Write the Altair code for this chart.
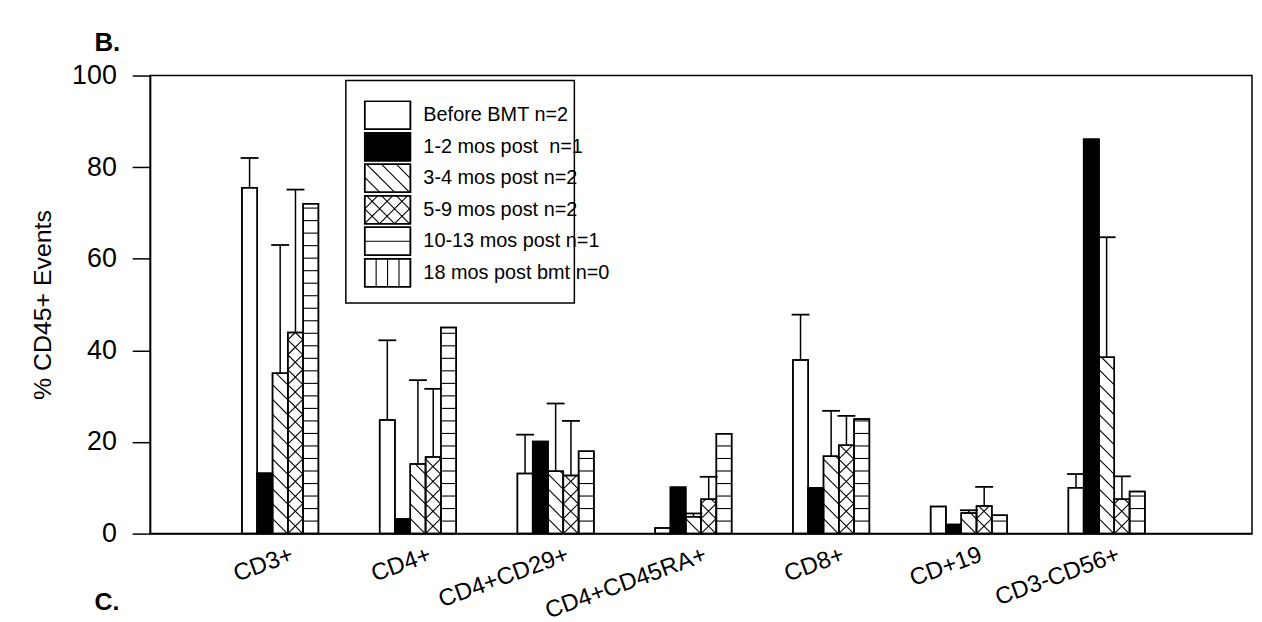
import json
import altair as alt
import pandas as pd

# ---------------- data ----------------
categories = ["CD3+", "CD4+", "CD4+CD29+", "CD4+CD45RA+", "CD8+", "CD+19", "CD3-CD56+"]
series_names = ["Before BMT n=2", "1-2 mos post  n=1", "3-4 mos post n=2",
                "5-9 mos post n=2", "10-13 mos post n=1", "18 mos post bmt n=0"]

before_bmt     = [75.5, 24.8, 13.1, 1.2, 37.9, 5.9, 10.0]
before_bmt_err = [82.0, 42.2, 21.6, None, 47.8, None, 13.0]
post_1_2       = [13.2, 3.2, 20.1, 10.1, 10.0, 2.0, 86.1]
post_1_2_err   = [None, None, None, None, None, None, None]
post_3_4       = [35.0, 15.2, 13.6, 3.7, 16.9, 4.5, 38.5]
post_3_4_err   = [63.0, 33.5, 28.4, 4.4, 26.8, 5.1, 64.7]
post_5_9       = [43.9, 16.7, 12.7, 7.5, 19.3, 6.0, 7.5]
post_5_9_err   = [75.1, 31.6, 24.6, 12.4, 25.7, 10.2, 12.5]
post_10_13     = [72.0, 45.0, 18.0, 21.8, 25.0, 4.0, 9.2]
post_10_13_err = [None, None, None, None, None, None, None]
post_18        = [None, None, None, None, None, None, None]   # n=0
post_18_err    = [None, None, None, None, None, None, None]

y_ticks = [0, 20, 40, 60, 80, 100]

series_values = [before_bmt, post_1_2, post_3_4, post_5_9, post_10_13, post_18]
series_errors = [before_bmt_err, post_1_2_err, post_3_4_err, post_5_9_err, post_10_13_err, post_18_err]

# ---------------- styles / layout ----------------
series_fill = ["white", "black", "white", "white", "white", "white"]
series_hatch = [None, None, "back", "cross", "horiz", "vert"]

W, H = 1109, 461
XMAX, YMAX = 8, 100
kx = W / XMAX
ky = H / YMAX
BAR_PX = 15.4
CAP_HALF_PX = 9
bw = BAR_PX / kx
FONT = "Liberation Sans"


def hatch(x0, x1, y0, y1, kind, s):
    segs = []
    if kind == "horiz":
        k = 1
        while y0 + k * s < y1 - 1:
            segs.append((x0, y0 + k * s, x1, y0 + k * s)); k += 1
    if kind == "vert":
        k = 1
        while x0 + k * s < x1 - 1:
            segs.append((x0 + k * s, y0, x0 + k * s, y1)); k += 1
    if kind in ("back", "cross"):
        k = 1
        while x0 + y0 + k * s < x1 + y1:
            c = x0 + y0 + k * s
            a, b = max(x0, c - y1), min(x1, c - y0)
            if b - a > 0.5:
                segs.append((a, c - a, b, c - b))
            k += 1
    if kind == "cross":
        k = -int((x1 - x0) / s) - 1
        while y0 - x0 + k * s < y1 - x0:
            c = y0 - x0 + k * s
            a, b = max(x0, y0 - c), min(x1, y1 - c)
            if b - a > 0.5:
                segs.append((a, a + c, b, b + c))
            k += 1
    return [dict(x=p / kx, y=q / ky, x2=r / kx, y2=t / ky) for p, q, r, t in segs]


bar_rows, hatch_rows, err_rows, cap_rows = [], [], [], []
for j, (vals, errs) in enumerate(zip(series_values, series_errors)):
    for i, v in enumerate(vals):
        if v is None:
            continue
        left = (i + 1) + (j - 3) * bw
        right = left + bw
        bar_rows.append(dict(x=left, x2=right, y=0, y2=v, fill=series_fill[j]))
        if series_hatch[j]:
            hatch_rows += hatch(left * kx, right * kx, 0, v * ky, series_hatch[j],
                                12.6 if series_hatch[j] == "horiz" else 15)
        e = errs[i]
        if e is not None:
            cx = (left + right) / 2
            err_rows.append(dict(x=cx, y=v, y2=e))
            cap_rows.append(dict(x=cx - CAP_HALF_PX / kx, x2=cx + CAP_HALF_PX / kx, y=e))

# legend layout in plot pixels (from top-left of plot area)
LB = dict(l=197, r=427, t=5, b=229)
SW_L, SW_R, ROW0, ROW_H, SW_H, TXT_X = 216, 262, 26, 31.7, 28, 275


def px2x(p):
    return p / kx


def py2y(p):
    return (H - p) / ky


legend_box = pd.DataFrame([dict(x=px2x(LB["l"]), x2=px2x(LB["r"]), y=py2y(LB["b"]), y2=py2y(LB["t"]))])
sw_rows, sw_hatch, txt_rows = [], [], []
for j, name in enumerate(series_names):
    top = ROW0 + j * ROW_H
    bot = top + SW_H
    sw_rows.append(dict(x=px2x(SW_L), x2=px2x(SW_R), y=py2y(bot), y2=py2y(top), fill=series_fill[j]))
    if series_hatch[j]:
        sp = {"back": 15, "cross": 15, "horiz": 14, "vert": 11.5}[series_hatch[j]]
        sw_hatch += hatch(SW_L, SW_R, H - bot, H - top, series_hatch[j], sp)
    # keep the double space visible in SVG text
    txt_rows.append(dict(x=px2x(TXT_X), y=py2y((top + bot) / 2), label=name.replace("  ", " \u00a0")))

bars_df = pd.DataFrame(bar_rows)
hatch_df = pd.DataFrame(hatch_rows)
err_df = pd.DataFrame(err_rows)
cap_df = pd.DataFrame(cap_rows)
sw_df = pd.DataFrame(sw_rows)
sw_hatch_df = pd.DataFrame(sw_hatch)
txt_df = pd.DataFrame(txt_rows)

xscale = alt.Scale(domain=[0, XMAX], nice=False, zero=False)
yscale = alt.Scale(domain=[0, YMAX], nice=False)
label_expr = json.dumps(categories) + "[datum.value - 1]"
xaxis = alt.Axis(values=list(range(1, len(categories) + 1)), labelExpr=label_expr, ticks=False,
                 grid=False, labelAngle=-20, labelAlign="right", labelBaseline="top",
                 labelFontSize=24, labelPadding=9, labelOverlap=False,
                 labelBound=False, labelFlush=False, title=None)
yaxis = alt.Axis(values=y_ticks, grid=False, tickSize=18, labelFontSize=27, labelPadding=16,
                 title="% CD45+ Events", titleFontSize=25, titlePadding=16)


def X(f):
    return alt.X(f, type="quantitative", scale=xscale, axis=xaxis)


def Y(f):
    return alt.Y(f, type="quantitative", scale=yscale, axis=yaxis)


bars = alt.Chart(bars_df).mark_rect(stroke="black", strokeWidth=1.5).encode(
    x=X("x"), x2="x2", y=Y("y"), y2="y2", fill=alt.Fill("fill:N", scale=None))
hatch_l = alt.Chart(hatch_df).mark_rule(color="black", strokeWidth=1.1).encode(
    x=X("x"), x2="x2", y=Y("y"), y2="y2")
outline = alt.Chart(bars_df).mark_rect(stroke="black", strokeWidth=1.5, fillOpacity=0).encode(
    x=X("x"), x2="x2", y=Y("y"), y2="y2")
err_l = alt.Chart(err_df).mark_rule(color="black", strokeWidth=1.5).encode(
    x=X("x"), y=Y("y"), y2="y2")
cap_l = alt.Chart(cap_df).mark_rule(color="black", strokeWidth=1.8).encode(
    x=X("x"), x2="x2", y=Y("y"))
lbox = alt.Chart(legend_box).mark_rect(fill="white", stroke="black", strokeWidth=1.5).encode(
    x=X("x"), x2="x2", y=Y("y"), y2="y2")
sw = alt.Chart(sw_df).mark_rect(stroke="black", strokeWidth=1.5).encode(
    x=X("x"), x2="x2", y=Y("y"), y2="y2", fill=alt.Fill("fill:N", scale=None))
sw_h = alt.Chart(sw_hatch_df).mark_rule(color="black", strokeWidth=1.1).encode(
    x=X("x"), x2="x2", y=Y("y"), y2="y2")
sw_o = alt.Chart(sw_df).mark_rect(stroke="black", strokeWidth=1.5, fillOpacity=0).encode(
    x=X("x"), x2="x2", y=Y("y"), y2="y2")
ltxt = alt.Chart(txt_df).mark_text(align="left", baseline="middle", fontSize=20, font=FONT,
                                   color="black").encode(x=X("x"), y=Y("y"), text="label:N")
panel_b = alt.Chart(pd.DataFrame({"t": ["B."]})).mark_text(
    align="left", baseline="middle", fontSize=26, fontWeight="bold", font=FONT, color="black"
).encode(x=alt.value(-56), y=alt.value(-33), text="t:N")
panel_c = alt.Chart(pd.DataFrame({"t": ["C."]})).mark_text(
    align="left", baseline="middle", fontSize=25, fontWeight="bold", font=FONT, color="black"
).encode(x=alt.value(-56), y=alt.value(530), text="t:N")

chart = alt.layer(bars, hatch_l, outline, err_l, cap_l, lbox, sw, sw_h, sw_o, ltxt, panel_b, panel_c).properties(
    width=W, height=H,
    autosize=alt.AutoSizeParams(type="none"),
    padding={"left": 143, "top": 66, "right": 2, "bottom": 87},
).configure_view(stroke="black", strokeWidth=1.5).configure_axis(
    labelFont=FONT, titleFont=FONT, labelColor="black", titleColor="black",
    domainColor="black", tickColor="black", domainWidth=1.5, tickWidth=1.5,
    titleFontWeight="normal")

chart.save("out.html", embed_options={"renderer": "svg", "actions": False})
